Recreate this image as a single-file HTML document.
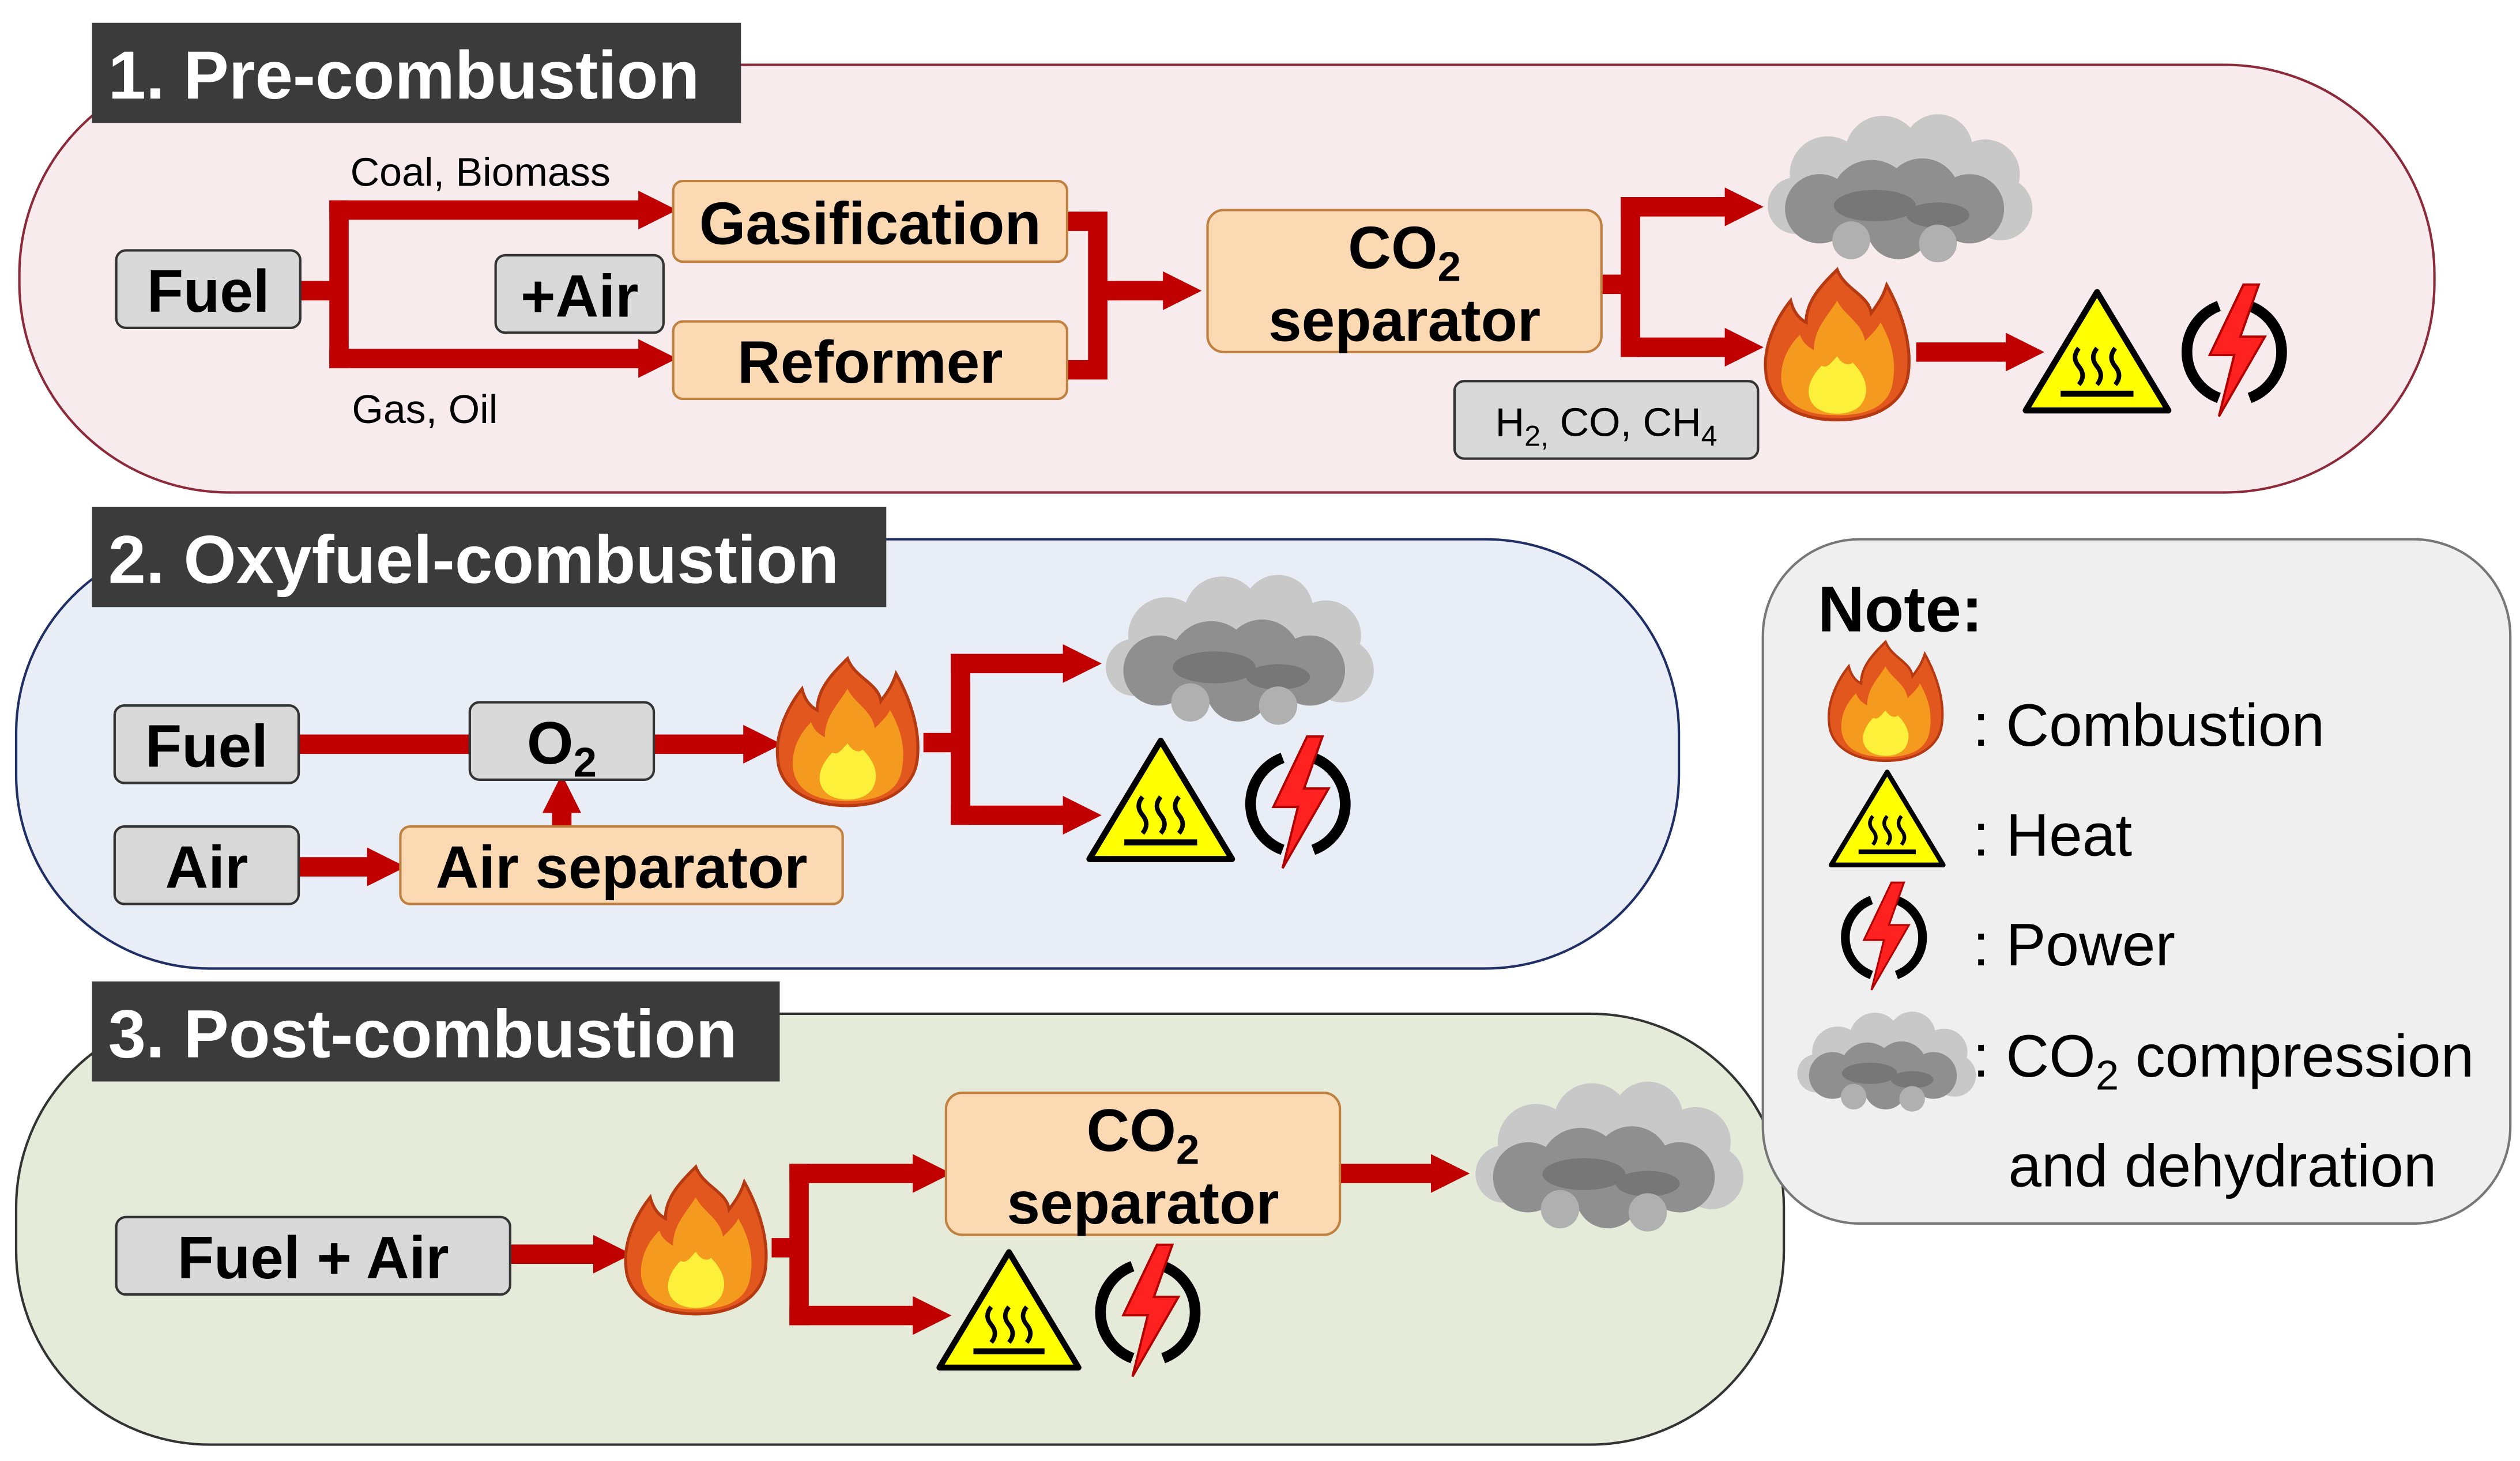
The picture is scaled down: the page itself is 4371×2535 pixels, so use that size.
<!DOCTYPE html>
<html><head><meta charset="utf-8"><style>
html,body{margin:0;padding:0;background:#fff;}
svg{display:block;}
text{font-family:"Liberation Sans",Arial,sans-serif;}
.b{font-weight:bold;}
</style></head><body>
<svg width="4371" height="2535" viewBox="0 0 1561 905" xmlns="http://www.w3.org/2000/svg">
<defs>
<marker id="ah" markerWidth="2" markerHeight="2" refX="0.8" refY="1" orient="auto" markerUnits="strokeWidth">
<path d="M0,0 L2,1 L0,2 Z" fill="#c00000"/></marker>
<symbol id="flame" viewBox="0 0 100 100">
<path d="M50,2 C55,15 70,18 72,30 C78,22 80,18 82,12 C92,30 98,50 96,68 C94,88 75,99 50,99 C25,99 5,88 4,68 C2,50 12,32 20,22 C22,30 26,34 30,36 C30,22 40,12 50,2 Z" fill="#e2571e" stroke="#b53a12" stroke-width="2"/>
<path d="M50,22 C55,32 66,36 68,48 C74,42 76,40 78,36 C86,50 88,62 86,74 C84,90 70,96 50,96 C30,96 16,90 14,74 C13,60 20,50 26,44 C28,50 32,52 35,54 C35,40 44,32 50,22 Z" fill="#f39a1f"/>
<path d="M50,58 C54,64 58,64 60,62 C68,70 70,78 68,84 C66,92 58,95 50,95 C42,95 34,92 32,84 C30,76 36,68 40,64 C44,66 46,62 50,58 Z" fill="#fdf03a"/>
</symbol>
<symbol id="cloud" viewBox="0 0 170 95">
<g fill="#c8c8c8"><circle cx="40" cy="38" r="24"/><circle cx="75" cy="25" r="24"/><circle cx="110" cy="22" r="22"/><circle cx="140" cy="38" r="22"/><circle cx="150" cy="60" r="20"/><circle cx="20" cy="58" r="18"/></g>
<g fill="#8f8f8f"><circle cx="35" cy="60" r="22"/><circle cx="68" cy="55" r="26"/><circle cx="100" cy="52" r="24"/><circle cx="130" cy="60" r="22"/><circle cx="85" cy="72" r="20"/></g>
<g fill="#777"><ellipse cx="70" cy="58" rx="26" ry="10"/><ellipse cx="110" cy="64" rx="20" ry="8"/></g>
<g fill="#b0b0b0"><circle cx="55" cy="80" r="12"/><circle cx="110" cy="82" r="12"/></g>
</symbol>
<symbol id="heat" viewBox="0 0 100 84">
<path d="M50,3 L97,81 L3,81 Z" fill="#ffff00" stroke="#000" stroke-width="4" stroke-linejoin="round"/>
<path d="M38,40 q-5,6 0,12 q5,6 0,12 M50,40 q-5,6 0,12 q5,6 0,12 M62,40 q-5,6 0,12 q5,6 0,12" fill="none" stroke="#000" stroke-width="3"/>
<path d="M26,70 L74,70" stroke="#000" stroke-width="4"/>
</symbol>
<symbol id="power" viewBox="0 0 80 90">
<path d="M30,16 A32,32 0 0 0 30,76" fill="none" stroke="#000" stroke-width="7"/>
<path d="M50,16 A32,32 0 0 1 50,76" fill="none" stroke="#000" stroke-width="7"/>
<path d="M46,2 L24,48 L40,48 L30,88 L60,36 L44,36 L56,2 Z" fill="#ff2020" stroke="#b00000" stroke-width="1.5"/>
</symbol>
</defs>

<rect x="12" y="40" width="1496" height="265" rx="130" fill="#f7ebee" stroke="#8c2a3a" stroke-width="1.5"/>
<rect x="10" y="334" width="1030" height="266" rx="120" fill="#e9eef6" stroke="#1f2f66" stroke-width="1.5"/>
<rect x="10" y="628" width="1095" height="267" rx="120" fill="#e6ead8" stroke="#333" stroke-width="1.5"/>
<rect x="1092" y="334" width="463" height="424" rx="60" fill="#efefef" stroke="#777" stroke-width="1.5"/>

<rect x="57" y="14" width="402" height="62" fill="#3b3b3b"/>
<text x="67" y="61" class="b" font-size="42" fill="#fff">1. Pre-combustion</text>
<rect x="57" y="314" width="492" height="62" fill="#3b3b3b"/>
<text x="67" y="361" class="b" font-size="42" fill="#fff">2. Oxyfuel-combustion</text>
<rect x="57" y="608" width="426" height="62" fill="#3b3b3b"/>
<text x="67" y="655" class="b" font-size="42" fill="#fff">3. Post-combustion</text>

<g stroke="#c00000" stroke-width="12" fill="none">
<path d="M186,180 H210 M210,124 V228"/>
<path d="M204,130 H405" marker-end="url(#ah)"/>
<path d="M204,222 H405" marker-end="url(#ah)"/>
<path d="M661,137 H680 V229 H661"/>
<path d="M680,180 H730" marker-end="url(#ah)"/>
<path d="M992,176 H1010 M1010,122 V221"/>
<path d="M1004,128 H1078" marker-end="url(#ah)"/>
<path d="M1004,215 H1078" marker-end="url(#ah)"/>
<path d="M1187,218 H1252" marker-end="url(#ah)"/>

<path d="M185,461 H291"/>
<path d="M405,461 H470" marker-end="url(#ah)"/>
<path d="M185,537 H237" marker-end="url(#ah)"/>
<path d="M348,512 V494" marker-end="url(#ah)"/>
<path d="M572,460 H595 M595,405 V511"/>
<path d="M589,411 H668" marker-end="url(#ah)"/>
<path d="M589,505 H668" marker-end="url(#ah)"/>

<path d="M316,777 H377" marker-end="url(#ah)"/>
<path d="M478,773 H495 M495,721 V821"/>
<path d="M489,727 H575" marker-end="url(#ah)"/>
<path d="M489,815 H575" marker-end="url(#ah)"/>
<path d="M830,727 H896" marker-end="url(#ah)"/>
</g>

<g stroke="#333" stroke-width="1.5">
<rect x="72" y="155" width="114" height="48" rx="6" fill="#d9d9d9"/>
<rect x="307" y="158" width="104" height="48" rx="6" fill="#d9d9d9"/>
<rect x="901" y="236" width="188" height="48" rx="6" fill="#d9d9d9"/>
<rect x="71" y="437" width="114" height="48" rx="6" fill="#d9d9d9"/>
<rect x="291" y="435" width="114" height="48" rx="6" fill="#d9d9d9"/>
<rect x="71" y="512" width="114" height="48" rx="6" fill="#d9d9d9"/>
<rect x="72" y="754" width="244" height="48" rx="6" fill="#d9d9d9"/>
</g>
<g stroke="#c08040" stroke-width="1.5" fill="#fbd9b3">
<rect x="417" y="112" width="244" height="50" rx="6"/>
<rect x="417" y="199" width="244" height="48" rx="6"/>
<rect x="748" y="130" width="244" height="88" rx="10"/>
<rect x="248" y="512" width="274" height="48" rx="6"/>
<rect x="586" y="677" width="244" height="88" rx="10"/>
</g>

<g class="b" font-size="37" fill="#000" text-anchor="middle">
<text x="129" y="193">Fuel</text>
<text x="359" y="196">+Air</text>
<text x="539" y="151">Gasification</text>
<text x="539" y="237">Reformer</text>
<text x="870" y="166">CO<tspan font-size="26" dy="8">2</tspan></text>
<text x="870" y="211">separator</text>
<text x="128" y="475">Fuel</text>
<text x="348" y="473">O<tspan font-size="26" dy="8">2</tspan></text>
<text x="128" y="550">Air</text>
<text x="385" y="550">Air separator</text>
<text x="194" y="792">Fuel + Air</text>
<text x="708" y="713">CO<tspan font-size="26" dy="8">2</tspan></text>
<text x="708" y="758">separator</text>
</g>
<text x="217" y="115" font-size="25">Coal, Biomass</text>
<text x="218" y="262" font-size="25">Gas, Oil</text>
<text x="995" y="270" font-size="25" text-anchor="middle">H<tspan font-size="18" dy="6">2,</tspan><tspan dy="-6"> CO, CH</tspan><tspan font-size="18" dy="6">4</tspan></text>

<use href="#cloud" x="1093" y="70" width="166" height="94"/>
<use href="#flame" x="1090" y="165" width="96" height="96"/>
<use href="#heat" x="1252" y="178" width="94" height="79"/>
<use href="#power" x="1346" y="174" width="76" height="86"/>

<use href="#cloud" x="683" y="356" width="168" height="94"/>
<use href="#flame" x="478" y="405" width="94" height="96"/>
<use href="#heat" x="672" y="456" width="94" height="79"/>
<use href="#power" x="766" y="454" width="76" height="86"/>

<use href="#cloud" x="912" y="668" width="168" height="98"/>
<use href="#flame" x="384" y="720" width="94" height="96"/>
<use href="#heat" x="579" y="773" width="92" height="77"/>
<use href="#power" x="673" y="768" width="76" height="88"/>

<text x="1126" y="391" class="b" font-size="40">Note:</text>
<use href="#flame" x="1130" y="395" width="76" height="78"/>
<use href="#heat" x="1132" y="476" width="74" height="62"/>
<use href="#power" x="1136" y="545" width="62" height="70"/>
<use href="#cloud" x="1112" y="626" width="112" height="64"/>
<g font-size="37">
<text x="1222" y="462">: Combustion</text>
<text x="1222" y="530">: Heat</text>
<text x="1222" y="598">: Power</text>
<text x="1222" y="667">: CO<tspan font-size="26" dy="8">2</tspan><tspan dy="-8"> compression</tspan></text>
<text x="1244" y="735">and dehydration</text>
</g>
</svg>
</body></html>
